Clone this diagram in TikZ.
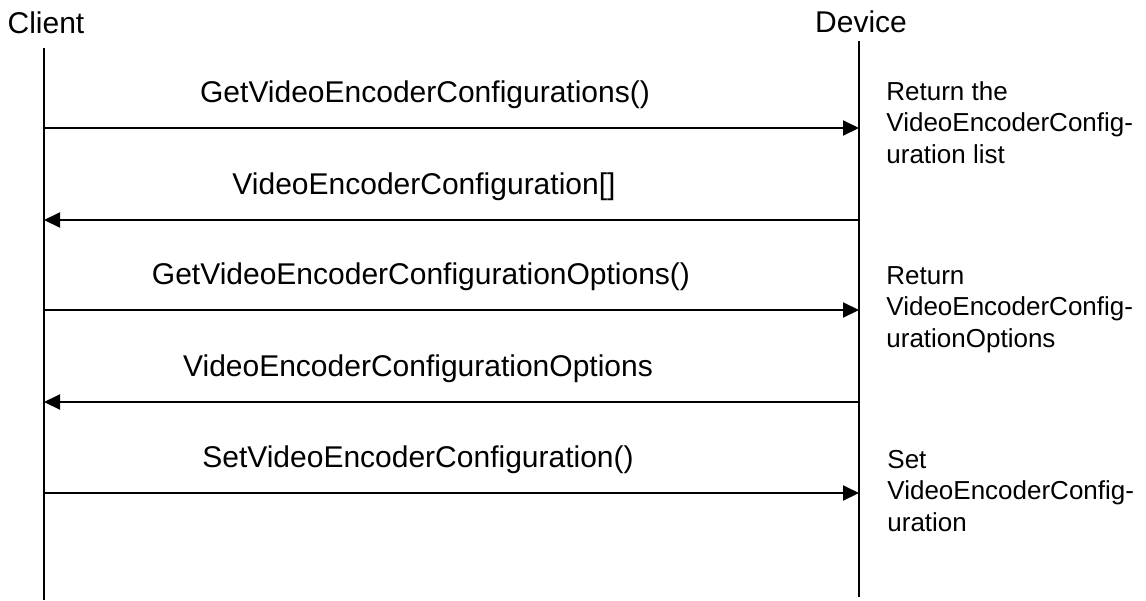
\documentclass[tikz,border=0pt]{standalone}
\usepackage{fontspec}
\setmainfont{Liberation Sans}
\usetikzlibrary{arrows.meta}
\tikzset{
	every node/.style = {
		font=\fontsize{15}{15.75}\selectfont,
		inner sep=0pt
	},
	party/.style = {anchor=base},
	msg/.style = {anchor=base},
	note/.style = {
		anchor=base west,
		align=left,
		font=\fontsize{13}{15.75}\selectfont
	},
	lifeline/.style = {line width=1pt},
	call/.style = {
		line width=1pt,
		-{Triangle[length=8pt,width=7.5pt]}
	}
}

\begin{document}
\begin{tikzpicture}[x=0.5pt,y=-0.5pt]
	\useasboundingbox (0,0) rectangle (1146,600);
	\node[party] (client) at (46,33) {Client};
	\node[party] (device) at (861,32) {Device};
	\coordinate (client top) at (44,48);
	\coordinate (client end) at (44,600);
	\coordinate (device top) at (859,41);
	\coordinate (device end) at (859,597);
	\draw[lifeline] (client top) -- (client end);
	\draw[lifeline] (device top) -- (device end);

	\coordinate (c1) at (44,128);
	\coordinate (d1) at (859,128);
	\coordinate (c2) at (44,220);
	\coordinate (d2) at (859,220);
	\coordinate (c3) at (44,310);
	\coordinate (d3) at (859,310);
	\coordinate (c4) at (44,402);
	\coordinate (d4) at (859,402);
	\coordinate (c5) at (44,493);
	\coordinate (d5) at (859,493);

	\draw[call] (c1) -- (d1);
	\draw[call] (d2) -- (c2);
	\draw[call] (c3) -- (d3);
	\draw[call] (d4) -- (c4);
	\draw[call] (c5) -- (d5);

	\node[msg] (get) at (425,102) {GetVideoEncoderConfigurations()};
	\node[msg] (list) at (424,194) {VideoEncoderConfiguration[]};
	\node[msg] (getopt) at (421,284) {GetVideoEncoderConfigurationOptions()};
	\node[msg] (opt) at (418,376) {VideoEncoderConfigurationOptions};
	\node[msg] (set) at (418,467) {SetVideoEncoderConfiguration()};

	\node[note] (retlist) at (886,163) {Return the\\VideoEncoderConfig-\\uration list};
	\node[note] (retopt) at (886,347) {Return\\VideoEncoderConfig-\\urationOptions};
	\node[note] (setconf) at (887,531) {Set\\VideoEncoderConfig-\\uration};
\end{tikzpicture}
\end{document}
